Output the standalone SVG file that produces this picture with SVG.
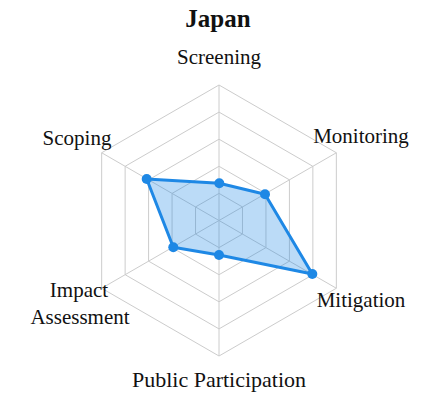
<svg xmlns="http://www.w3.org/2000/svg" width="426" height="395" viewBox="0 0 426 395">
<style>
.grid{fill:none;stroke:#cccccc;stroke-width:1}
.lbl{font-family:"Liberation Serif","Times New Roman",serif;font-size:21px;fill:#111}
.title{font-family:"Liberation Serif","Times New Roman",serif;font-size:25px;font-weight:bold;fill:#111}
.data{fill:#1e88e5;fill-opacity:0.3;stroke:#1e88e5;stroke-width:3;stroke-linejoin:round}
.dot{fill:#1e88e5}
</style>
<rect width="426" height="395" fill="#ffffff"/>
<g id="grid">
<polygon class="grid" points="219,193.4 242.47,206.95 242.47,234.05 219,247.6 195.53,234.05 195.53,206.95"/>
<polygon class="grid" points="219,166.3 265.94,193.4 265.94,247.6 219,274.7 172.06,247.6 172.06,193.4"/>
<polygon class="grid" points="219,139.2 289.41,179.85 289.41,261.15 219,301.8 148.59,261.15 148.59,179.85"/>
<polygon class="grid" points="219,112.1 312.87,166.3 312.87,274.7 219,328.9 125.13,274.7 125.13,166.3"/>
<polygon class="grid" points="219,85 336.34,152.75 336.34,288.25 219,356 101.66,288.25 101.66,152.75"/>
</g>
<g id="connectors">
<line class="grid" x1="219" y1="220.5" x2="219" y2="85"/>
<line class="grid" x1="219" y1="220.5" x2="336.34" y2="152.75"/>
<line class="grid" x1="219" y1="220.5" x2="336.34" y2="288.25"/>
<line class="grid" x1="219" y1="220.5" x2="219" y2="356"/>
<line class="grid" x1="219" y1="220.5" x2="101.66" y2="288.25"/>
<line class="grid" x1="219" y1="220.5" x2="101.66" y2="152.75"/>
</g>
<g id="series">
<polygon class="data" points="219.3,183.3 265,194.3 312.3,274 219,255 173.3,247.3 146.7,179"/>
<circle class="dot" cx="219.3" cy="183.3" r="5"/>
<circle class="dot" cx="265" cy="194.3" r="5"/>
<circle class="dot" cx="312.3" cy="274" r="5"/>
<circle class="dot" cx="219" cy="255" r="5"/>
<circle class="dot" cx="173.3" cy="247.3" r="5"/>
<circle class="dot" cx="146.7" cy="179" r="5"/>
</g>
<g id="title"><text class="title" x="218" y="27" text-anchor="middle">Japan</text></g>
<g id="screening"><text class="lbl" x="219" y="64" text-anchor="middle">Screening</text></g>
<g id="monitoring"><text class="lbl" x="361" y="143" text-anchor="middle">Monitoring</text></g>
<g id="mitigation"><text class="lbl" x="361" y="307" text-anchor="middle">Mitigation</text></g>
<g id="public-participation"><text class="lbl" x="219" y="387" text-anchor="middle" style="font-size:22px">Public Participation</text></g>
<g id="impact-assessment"><text class="lbl" x="79" y="297" text-anchor="middle">Impact</text><text class="lbl" x="80" y="323.5" text-anchor="middle">Assessment</text></g>
<g id="scoping"><text class="lbl" x="77" y="145" text-anchor="middle">Scoping</text></g>
</svg>
